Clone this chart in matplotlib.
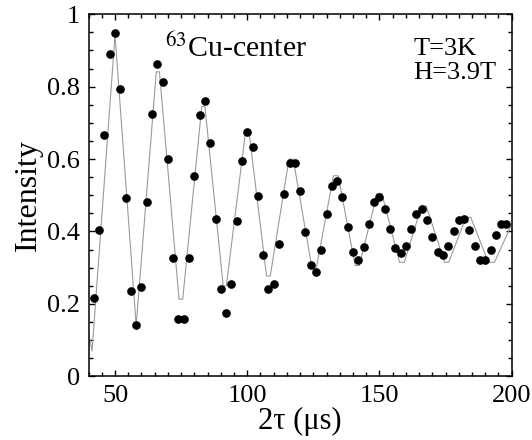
import numpy as np
import matplotlib
matplotlib.use("Agg")
import matplotlib.pyplot as plt
from matplotlib.ticker import MultipleLocator, FuncFormatter

# echo points, 2tau in microseconds
tau2 = np.arange(42, 200, 2)
intensity = [0.216, 0.404, 0.667, 0.889, 0.947, 0.794, 0.493, 0.235, 0.141, 0.248,
             0.482, 0.725, 0.864, 0.814, 0.599, 0.328, 0.157, 0.159, 0.328, 0.552,
             0.723, 0.761, 0.645, 0.434, 0.240, 0.174, 0.256, 0.428, 0.595, 0.675,
             0.633, 0.498, 0.336, 0.240, 0.255, 0.365, 0.503, 0.590, 0.590, 0.511,
             0.398, 0.308, 0.289, 0.350, 0.448, 0.526, 0.540, 0.495, 0.413, 0.344,
             0.320, 0.356, 0.421, 0.482, 0.495, 0.463, 0.406, 0.354, 0.340, 0.360,
             0.406, 0.448, 0.461, 0.432, 0.384, 0.344, 0.335, 0.361, 0.400, 0.432,
             0.434, 0.404, 0.360, 0.322, 0.322, 0.350, 0.391, 0.420, 0.420]

# fit curve, read at its turning points (short flats at the tops/bottoms)
fit_x = [40, 41.3, 50, 58, 65.6, 66.8, 74.2, 75.6, 82.8, 84.0, 90.9, 92.1,
         99.2, 100.8, 107.3, 108.7, 115.8, 117.4, 124.5, 126.1, 132.6, 134.4,
         140.8, 142.4, 149.1, 150.9, 157.6, 159.4, 165.9, 167.7, 174.6, 176.2,
         182.7, 184.5, 191.2, 193.5, 200]
fit_y = [0.12, 0.07, 0.943, 0.14, 0.841, 0.841, 0.213, 0.213, 0.745, 0.745,
         0.25, 0.25, 0.667, 0.667, 0.277, 0.277, 0.60, 0.60, 0.298, 0.298,
         0.554, 0.554, 0.306, 0.306, 0.505, 0.505, 0.315, 0.315, 0.470, 0.470,
         0.315, 0.315, 0.439, 0.439, 0.315, 0.315, 0.42]

plt.rcParams['font.family'] = ['Liberation Serif', 'DejaVu Serif']
plt.rcParams['mathtext.fontset'] = 'stix'

fig = plt.figure(figsize=(5.32, 4.4), dpi=100)
ax = fig.add_axes([0.1665, 0.1448, 0.7953, 0.8227])

ax.plot(fit_x, fit_y, color='#9a9a9a', lw=0.8, zorder=2)
ax.plot(tau2, intensity, 'o', color='black', ms=5.2, zorder=3)

ax.set_xlim(40, 200)
ax.set_ylim(0, 1)
ax.xaxis.set_major_locator(MultipleLocator(50))
ax.xaxis.set_minor_locator(MultipleLocator(5))
ax.yaxis.set_major_locator(MultipleLocator(0.2))
ax.yaxis.set_minor_locator(MultipleLocator(0.05))
ax.yaxis.set_major_formatter(FuncFormatter(lambda v, p: f"{v:g}"))

ax.tick_params(which='both', direction='in', top=True, right=True, width=1.0)
ax.tick_params(which='major', length=4.5, labelsize=19, pad=6)
ax.tick_params(which='minor', length=2.7)
for s in ax.spines.values():
    s.set_linewidth(1.1)

ax.set_xlabel('2τ (μs)', fontsize=22, labelpad=0)
ax.set_ylabel('Intensity', fontsize=23, labelpad=3)

ax.text(0.18, 0.879, r'$^{63}$Cu-center', transform=ax.transAxes, fontsize=21.5)
ax.text(0.767, 0.887, 'T=3K', transform=ax.transAxes, fontsize=19)
ax.text(0.767, 0.821, 'H=3.9T', transform=ax.transAxes, fontsize=19)

fig.savefig('out.png', dpi=100)
